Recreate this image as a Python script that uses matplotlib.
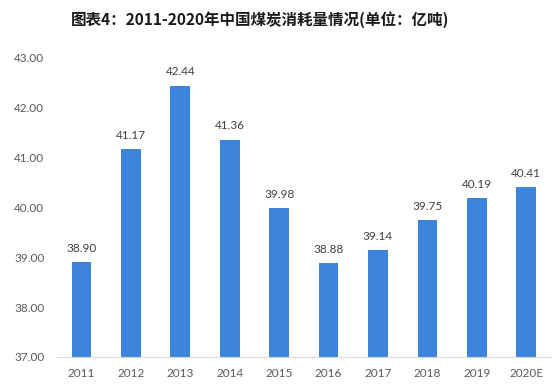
import matplotlib
matplotlib.use('Agg')
import matplotlib.pyplot as plt

years = ['2011', '2012', '2013', '2014', '2015', '2016', '2017', '2018', '2019', '2020E']
consumption = [38.90, 41.17, 42.44, 41.36, 39.98, 38.88, 39.14, 39.75, 40.19, 40.41]
yticks = [37, 38, 39, 40, 41, 42, 43]

bar_color = '#3C84DC'
text_color = '#595959'

fig = plt.figure(figsize = (5.52, 3.91), dpi = 100)
ax = fig.add_axes([0.103, 0.087, 0.895, 0.765])

x = range(len(years))
ax.bar(x, [v - 37 for v in consumption], bottom = 37, width = 0.4, color = bar_color, zorder = 2)

for xi, v in zip(x, consumption):
    ax.annotate('{:.2f}'.format(v), (xi, v), xytext = (0, 6), textcoords = 'offset points',
                ha = 'center', va = 'bottom', fontsize = 8.5, color = '#404040', family = 'Lato')

ax.set_xlim(-0.5, len(years) - 0.5)
ax.set_ylim(37, 43)
ax.set_yticks(yticks)
ax.set_yticklabels(['{:.2f}'.format(t) for t in yticks], family = 'Lato', fontsize = 8.5, color = text_color)
ax.set_xticks(list(x))
ax.set_xticklabels(years, family = 'Lato', fontsize = 8.5, color = text_color)
ax.tick_params(axis = 'both', length = 0)
ax.tick_params(axis = 'y', pad = 9)
ax.tick_params(axis = 'x', pad = 8)

for s in ('top', 'right', 'left'):
    ax.spines[s].set_visible(False)
ax.spines['bottom'].set_color('#D9D9D9')
ax.spines['bottom'].set_linewidth(0.8)

fig.text(0.471, 0.951, '图表4：2011-2020年中国煤炭消耗量情况(单位：亿吨)', ha = 'center', va = 'center',
         fontsize = 11.2, fontweight = 'bold', color = '#1a1a1a', family = ['Noto Sans CJK SC', 'DejaVu Sans'])

fig.savefig('out.png', dpi = 100)
